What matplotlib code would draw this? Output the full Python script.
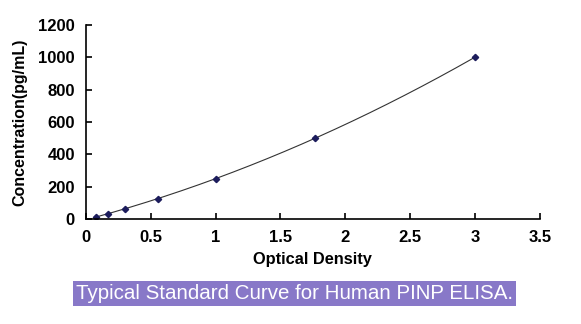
import numpy as np
import matplotlib.pyplot as plt

plt.rcParams['font.family'] = ['Liberation Sans', 'DejaVu Sans']

od = [0.077, 0.17, 0.30, 0.555, 1.0, 1.765, 3.0]
conc = [15.6, 31.25, 62.5, 125, 250, 500, 1000]
xticks = [0, 0.5, 1, 1.5, 2, 2.5, 3, 3.5]
yticks = [0, 200, 400, 600, 800, 1000, 1200]

fig = plt.figure(figsize=(5.81, 3.24), dpi=100)
ax = fig.add_axes([0.148, 0.324, 0.781, 0.599])

# smooth standard curve through the points
coef = np.polyfit(od, conc, 2)
xs = np.linspace(od[0], od[-1], 200)
ax.plot(xs, np.polyval(coef, xs), color='#333333', lw=0.8)
ax.plot(od, conc, 'D', color='#1c1c5c', ms=3.2)

ax.set_xlim(0, 3.5)
ax.set_ylim(0, 1200)
ax.set_xticks(xticks)
ax.set_xticklabels(['0', '0.5', '1', '1.5', '2', '2.5', '3', '3.5'])
ax.set_yticks(yticks)
for s in ['top', 'right']:
    ax.spines[s].set_visible(False)
for s in ['left', 'bottom']:
    ax.spines[s].set_linewidth(1.2)
ax.tick_params(direction='in', length=4, width=1.2, labelsize=12, pad=8)
for lab in ax.get_xticklabels() + ax.get_yticklabels():
    lab.set_fontweight('bold')
ax.set_xlabel('Optical Density', fontsize=11.8, fontweight='bold', labelpad=5)
ax.set_ylabel('Concentration(pg/mL)', fontsize=11.5, fontweight='bold', labelpad=8)

fig.text(0.131, 0.093, 'Typical Standard Curve for Human PINP ELISA.',
         fontsize=14.8, color='white', va='center', ha='left',
         bbox=dict(boxstyle='square,pad=0.15', fc='#8878c8', ec='none'))

fig.savefig('out.png', dpi=100)
